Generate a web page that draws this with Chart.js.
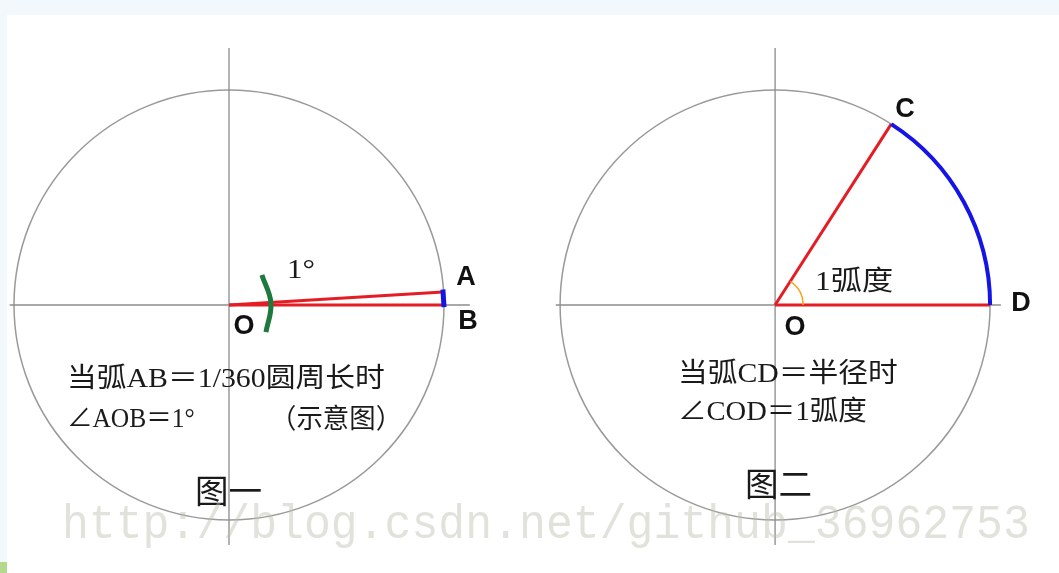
<!DOCTYPE html>
<html>
<head>
<meta charset="utf-8">
<title>弧度示意图</title>
<script src="https://cdn.jsdelivr.net/npm/chart.js@4.4.1/dist/chart.umd.min.js"></script>
<style>
  body { margin: 0; background: #fff; }
  #wrap { width: 1059px; height: 573px; }
</style>
</head>
<body>
<div id="wrap"><canvas id="fig"></canvas></div>
<script>
// units: 1 = circle radius, origin at centre of left circle
var centreX = [0, 2.54];
var radius = 1;
var vAxisY = [1.195, -1.116];
var hAxisLeft = [-1.02, 1.12];
var hAxisRight = [1.52, 3.59];

var pointA = [0.995, 0.06];
var pointB = [1.0, 0.0];
var pointC = [3.08, 0.841];
var pointD = [3.54, 0.0];
var arcCD = [0, 1];          // radians, blue arc on right circle
var smallArc = 0.13;         // radius of the orange angle mark
var markX = [0.153, 0.195, 0.172];   // green 1° mark
var markY = [0.14, 0.009, -0.126];

// bold point labels
var ptText = ['A', 'B', 'O', 'C', 'D', 'O'];
var ptX = [1.102, 1.112, 0.070, 3.144, 3.684, 2.633];
var ptY = [0.126, -0.079, -0.098, 0.907, 0.009, -0.107];

// notes (left edge, middle line, width)
var noteText = ['当弧AB＝1/360圆周长时', '∠AOB＝1°', '（示意图）', '图一',
                '当弧CD＝半径时', '∠COD＝1弧度', '图二', '1弧度', '1°'];
var noteX = [-0.754, -0.754, 0.191, -0.158, 2.088, 2.088, 2.40, 2.726, 0.270];
var noteY = [-0.349, -0.535, -0.540, -0.879, -0.326, -0.502, -0.847, 0.102, 0.160];
var noteW = [1.479, 0.595, 0.614, 0.312, 1.023, 0.879, 0.312, 0.363, 0.130];

var watermark = 'http://blog.csdn.net/github_36962753';
var wmPos = [-0.777, -1.084, 4.502];

var GRAY = '#8c8c8c', RED = '#e41c24', BLUE = '#1414e6';

function seg(x1, y1, x2, y2, color, w) {
  return { data: [{x: x1, y: y1}, {x: x2, y: y2}], showLine: true, borderColor: color,
           borderWidth: w, pointRadius: 0, borderCapStyle: 'butt' };
}

// first in list = drawn on top
var datasets = [
  { data: markX.map(function (v, i) { return {x: v, y: markY[i]}; }), showLine: true,
    borderColor: '#1e7a3c', borderWidth: 5, pointRadius: 0, tension: 0.4 },
  seg(pointA[0], pointA[1] + 0.012, pointB[0], pointB[1] - 0.01, BLUE, 5),
  seg(centreX[0], 0, pointB[0], pointB[1], RED, 3),
  seg(centreX[0], 0, pointA[0], pointA[1], RED, 3),
  seg(centreX[1], 0, pointC[0], pointC[1], RED, 3),
  seg(centreX[1], 0, pointD[0], pointD[1], RED, 3),
  seg(centreX[0], vAxisY[0], centreX[0], vAxisY[1], GRAY, 1.3),
  seg(centreX[1], vAxisY[0], centreX[1], vAxisY[1], GRAY, 1.3),
  seg(hAxisLeft[0], 0, hAxisLeft[1], 0, GRAY, 1.3),
  seg(hAxisRight[0], 0, hAxisRight[1], 0, GRAY, 1.3)
];

function fitText(ctx, text, px, py, w, font, color) {
  ctx.save();
  ctx.font = font;
  ctx.fillStyle = color;
  ctx.textBaseline = 'middle';
  var m = ctx.measureText(text).width;
  ctx.translate(px, py);
  ctx.scale(w / m, 1);
  ctx.fillText(text, 0, 0);
  ctx.restore();
}

var figPlugin = {
  id: 'fig',
  beforeDraw: function (chart) {
    var ctx = chart.ctx;
    ctx.save();
    ctx.fillStyle = '#f3f8fc';
    ctx.fillRect(0, 0, chart.width, chart.height);
    ctx.fillStyle = '#ffffff';
    ctx.fillRect(7, 15, chart.width - 7, chart.height - 15);
    ctx.fillStyle = '#b4d88c';
    ctx.fillRect(0, 562, 7, 11);
    ctx.restore();
  },
  beforeDatasetsDraw: function (chart) {
    var ctx = chart.ctx, sx = chart.scales.x, sy = chart.scales.y;
    var r = sx.getPixelForValue(radius) - sx.getPixelForValue(0);
    ctx.save();
    ctx.strokeStyle = '#9a9a9a';
    ctx.lineWidth = 1.5;
    centreX.forEach(function (cx) {
      ctx.beginPath();
      ctx.arc(sx.getPixelForValue(cx), sy.getPixelForValue(0), r, 0, Math.PI * 2);
      ctx.stroke();
    });
    ctx.restore();
  },
  afterDatasetsDraw: function (chart) {
    var ctx = chart.ctx, sx = chart.scales.x, sy = chart.scales.y;
    var unit = sx.getPixelForValue(1) - sx.getPixelForValue(0);
    var ox = sx.getPixelForValue(centreX[1]), oy = sy.getPixelForValue(0);
    ctx.save();
    // blue arc CD
    ctx.strokeStyle = BLUE;
    ctx.lineWidth = 4;
    ctx.beginPath();
    ctx.arc(ox, oy, radius * unit, -arcCD[1], -arcCD[0]);
    ctx.stroke();
    // angle mark
    ctx.strokeStyle = '#f2a41c';
    ctx.lineWidth = 1.5;
    ctx.beginPath();
    ctx.arc(ox, oy, smallArc * unit, -arcCD[1], -arcCD[0]);
    ctx.stroke();
    ctx.restore();

    ctx.save();
    ctx.font = 'bold 27px "Liberation Sans", Arial, sans-serif';
    ctx.fillStyle = '#111';
    ctx.textAlign = 'center';
    ctx.textBaseline = 'middle';
    ptText.forEach(function (t, i) {
      ctx.fillText(t, sx.getPixelForValue(ptX[i]), sy.getPixelForValue(ptY[i]));
    });
    ctx.restore();

    noteText.forEach(function (t, i) {
      var size = (t.indexOf('图') === 0) ? 33 : 27;
      fitText(ctx, t, sx.getPixelForValue(noteX[i]), sy.getPixelForValue(noteY[i]),
              noteW[i] * unit, size + 'px "Liberation Serif", "Noto Sans CJK SC", serif', '#1a1a1a');
    });
  },
  afterDraw: function (chart) {
    var ctx = chart.ctx, sx = chart.scales.x, sy = chart.scales.y;
    var unit = sx.getPixelForValue(1) - sx.getPixelForValue(0);
    ctx.save();
    ctx.font = '46px "Liberation Mono", monospace';
    ctx.fillStyle = 'rgba(190,190,180,0.45)';
    ctx.textBaseline = 'alphabetic';
    var m = ctx.measureText(watermark).width;
    ctx.translate(sx.getPixelForValue(wmPos[0]), sy.getPixelForValue(wmPos[1]));
    ctx.scale(wmPos[2] * unit / m, 1.05);
    ctx.fillText(watermark, 0, 0);
    ctx.restore();
  }
};

new Chart(document.getElementById('fig'), {
  type: 'scatter',
  data: { datasets: datasets },
  options: {
    responsive: true,
    maintainAspectRatio: false,
    animation: false,
    layout: { padding: 0 },
    plugins: { legend: { display: false }, tooltip: { enabled: false } },
    scales: {
      x: { type: 'linear', min: -1.0651, max: 3.8605, display: false },
      y: { type: 'linear', min: -1.2465, max: 1.4186, display: false }
    }
  },
  plugins: [figPlugin]
});
</script>
</body>
</html>
